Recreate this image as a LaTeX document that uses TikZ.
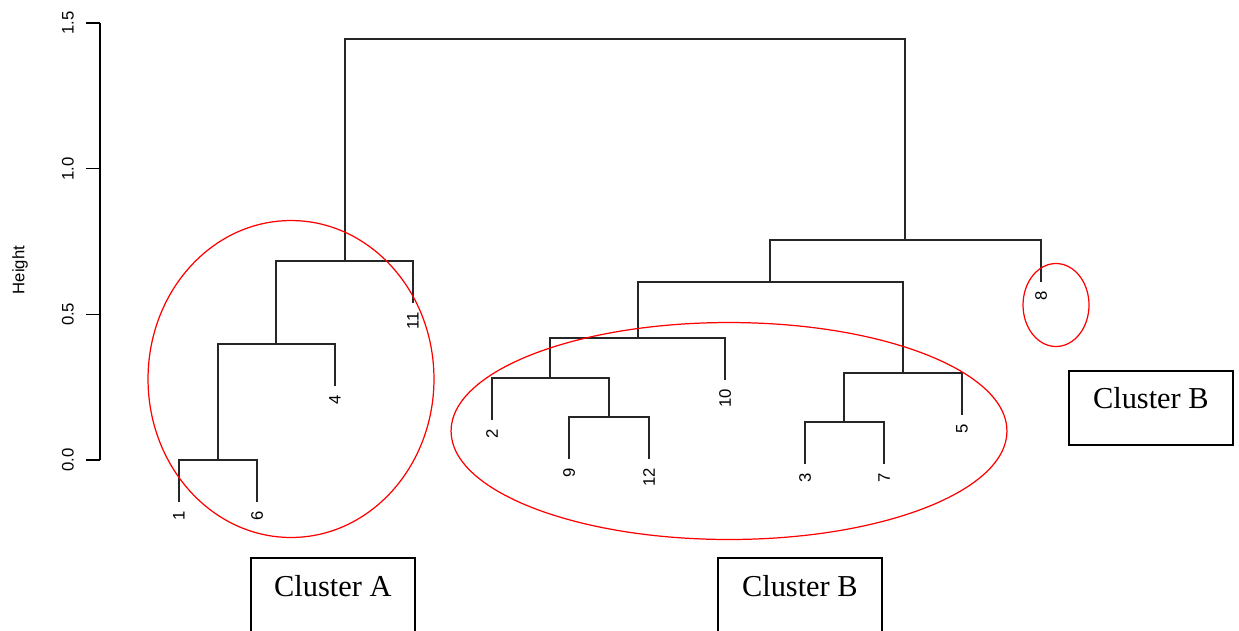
\documentclass[tikz,border=0pt]{standalone}
\usepackage{fontspec}
\setmainfont{Liberation Serif}
\setsansfont{Liberation Sans}
\usetikzlibrary{positioning}
\tikzstyle{link} = [line width=1pt, black!85]

\begin{document}
\begin{tikzpicture}[
			x=0.02cm, y=-0.02cm,
			rlab/.style={rotate=90, inner sep=0pt, font=\sffamily\fontsize{9.5}{11}\selectfont},
			leaf/.style={rlab, anchor=east},
			ring/.style={red, line width=0.7pt},
			tagbox/.style={draw, line width=1pt, minimum width=3.28cm, anchor=north west},
			tag/.style={font=\fontsize{17.3}{20}\selectfont, inner sep=0pt, anchor=base}
			]
			
			\useasboundingbox (0,0) rectangle (1239,630);
			
			% height axis
			\coordinate (ytop) at (100,23);
			\coordinate (ybot) at (100,460);
			\draw[line width=0.8pt] (ybot) -- (ytop);
			\foreach \h/\t [count=\k] in {0/0.0, 0.5/0.5, 1/1.0, 1.5/1.5} {
				\draw[line width=0.8pt] (86,460-291.33*\h) -- (100,460-291.33*\h);
				\node[rlab] (tk\k) at (68,460-291.33*\h) {\t};
			}
			\node[rlab] (ylab) at (20,270) {Height};
			
			% leaves (name/x/stem end)
			\foreach \n/\x/\y in {1/179/502, 6/257/502, 4/335/386, 11/413/303, 2/492/420, 9/569/459,
				12/649/459, 10/725/380, 3/805/464, 7/884/464, 5/962/415, 8/1041/282} {
				\coordinate (l\n) at (\x,\y);
				\node[leaf] (n\n) at (\x,\y+9) {\n};
			}
			
			% joins
			\coordinate (j16) at (218,460);
			\coordinate (j164) at (276,344);
			\coordinate (jA) at (345,261);
			\coordinate (j912) at (609,417);
			\coordinate (j2) at (550,378);
			\coordinate (j10) at (638,338);
			\coordinate (j37) at (844,422);
			\coordinate (j5) at (903,373);
			\coordinate (jB) at (770,282);
			\coordinate (j8) at (905,240);
			\coordinate (jroot) at (625,39);
			
			\draw[link] (l1) |- (j16) -| (l6);
			\draw[link] (j16) |- (j164) -| (l4);
			\draw[link] (j164) |- (jA) -| (l11);
			\draw[link] (l9) |- (j912) -| (l12);
			\draw[link] (l2) |- (j2) -| (j912);
			\draw[link] (j2) |- (j10) -| (l10);
			\draw[link] (l3) |- (j37) -| (l7);
			\draw[link] (j37) |- (j5) -| (l5);
			\draw[link] (j10) |- (jB) -| (j5);
			\draw[link] (jB) |- (j8) -| (l8);
			\draw[link] (jA) |- (jroot) -| (j8);
			
			% cluster rings
			\draw[ring] (291,379) ellipse [x radius=2.86cm, y radius=3.17cm];
			\draw[ring] (729,431) ellipse [x radius=5.56cm, y radius=2.17cm];
			\draw[ring] (1056,305) ellipse [x radius=0.66cm, y radius=0.83cm];
			
			% labels
			\node[tagbox, minimum height=1.48cm] (boxR) at (1068,370) {};
			\begin{scope}
				\clip (0,0) rectangle (1239,630);
				\node[tagbox, minimum height=2cm] (boxA) at (250,557) {};
				\node[tagbox, minimum height=2cm] (boxB) at (717,557) {};
			\end{scope}
			\node[tag] (tagR) at ([yshift=-0.76cm]boxR.north) {Cluster B};
			\node[tag] (tagA) at ([yshift=-0.78cm]boxA.north) {Cluster A};
			\node[tag] (tagB) at ([yshift=-0.78cm]boxB.north) {Cluster B};
		\end{tikzpicture}
\end{document}
